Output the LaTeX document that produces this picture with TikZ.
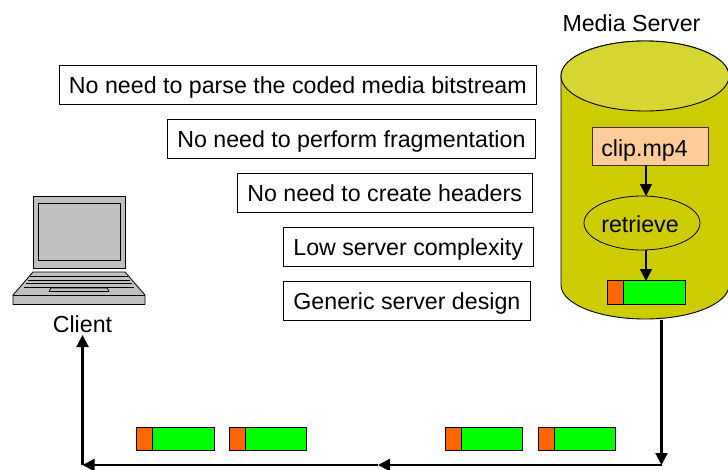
\documentclass[tikz,border=0pt]{standalone}
\usepackage{fontspec}
\setmainfont{Liberation Sans}
\usetikzlibrary{arrows.meta,shapes.geometric}
\definecolor{cylbody}{HTML}{CCCC00}
\definecolor{cyltop}{HTML}{D6D633}
\definecolor{clipfill}{HTML}{FFCC99}
\definecolor{pkthead}{HTML}{FF6600}
\definecolor{pktbody}{HTML}{00FF00}
\definecolor{lap}{HTML}{C0C0C0}
\tikzset{
  note/.style={draw=black,line width=0.8pt,fill=white,inner sep=0pt,anchor=north west,text height=17.5pt,text depth=0pt,minimum height=38.5pt,font=\fontsize{23.2}{26}\selectfont},
  label/.style={inner sep=0pt,anchor=base,font=\fontsize{23.2}{26}\selectfont},
  pbody/.style={draw=black,line width=1pt,fill=pktbody,inner sep=0pt,minimum width=77.5pt,minimum height=23.5pt},
  phead/.style={draw=black,line width=1pt,fill=pkthead,inner sep=0pt,minimum width=16pt,minimum height=23.5pt},
  flow/.style={line width=2.2pt,-{Triangle[length=12pt,width=12pt]}},
  thin edge/.style={draw=black,line width=0.9pt},
  lapline/.style={draw=black,line width=0.8pt,fill=lap,line join=round}
}
\newcommand{\packet}[3]{%
  \node[pbody] (#1) at (#2+38.75,#3) {};
  \node[phead] (#1h) at (#2+8,#3) {};
}
\begin{document}
\begin{tikzpicture}[x=1pt,y=-1pt]
\useasboundingbox (0,0) rectangle (728,469);
% cylinder
\path[fill=cylbody,thin edge] (561,76) -- (561,285) arc[start angle=180,end angle=0,x radius=84,y radius=34] -- (729,76) arc[start angle=0,end angle=-180,x radius=84,y radius=35] -- cycle;
\path[fill=cyltop,thin edge] (645,76) ellipse[x radius=84,y radius=35];
\node[label] (server) at (631.5,31) {Media Server};
% notes
\node[note,minimum width=477pt] (n1) at (59,65) {No need to parse the coded media bitstream};
\node[note,minimum width=368pt] (n2) at (167,119) {No need to perform fragmentation};
\node[note,minimum width=294.5pt] (n3) at (237,173) {No need to create headers};
\node[note,minimum width=249.5pt] (n4) at (283,227) {Low server complexity};
\node[note,minimum width=247pt] (n5) at (283,281) {Generic server design};
% inside server
\node[draw=black!75!clipfill,line width=1pt,fill=clipfill,inner sep=0pt,minimum width=116pt,minimum height=38pt,text height=20pt,text depth=0pt] (clip) at (650,146) {\hspace*{-11pt}\fontsize{23.2}{26}\selectfont clip.mp4};
\node[ellipse,draw=black,line width=0.8pt,inner sep=0pt,minimum width=116pt,minimum height=54pt,text height=19pt,text depth=0pt,font=\fontsize{23.2}{26}\selectfont] (retr) at (642,223) {\hspace*{-4pt}retrieve};
\packet{p0}{607.5}{292.5}
\coordinate (c1) at (646,165);
\coordinate (c2) at (646,196);
\coordinate (c3) at (646,250);
\coordinate (c4) at (646,281);
\draw[flow,line width=1.3pt] (c1) -- (c2);
\draw[flow,line width=1.3pt] (c3) -- (c4);
% packets in transit
\packet{p1}{136.5}{439}
\packet{p2}{229}{439}
\packet{p3}{445}{439}
\packet{p4}{538}{439}
% laptop
\path[lapline] (33,196) rectangle (125,268);
\path[lapline] (38.5,203.5) rectangle (120,260);
\path[lapline] (33,272) -- (125,272) -- (145,295) -- (145,304.5) -- (13,304.5) -- (13,295) -- cycle;
\draw[line width=0.8pt] (13,295) -- (145,295);
\draw[line width=0.8pt] (30,276) -- (128,276);
\draw[line width=0.8pt] (28,280) -- (130,280) (26,283.5) -- (132,283.5);
\draw[line width=0.8pt] (24,287) -- (134,287);
\path[lapline] (51,288) -- (107,288) -- (109,291.5) -- (49,291.5) -- cycle;
\node[label] (client) at (82.5,332) {Client};
% connectors
\coordinate (a0) at (661.5,319.5);
\coordinate (a1) at (661.5,465);
\coordinate (a2) at (378,465);
\coordinate (a3) at (82.5,465);
\coordinate (a4) at (82.5,335);
\draw[flow] (a0) -- (a1);
\draw[flow] (a1) -- (a2);
\draw[flow] (a2) -- (a3);
\draw[flow] (a3) -- (a4);
\end{tikzpicture}
\end{document}
